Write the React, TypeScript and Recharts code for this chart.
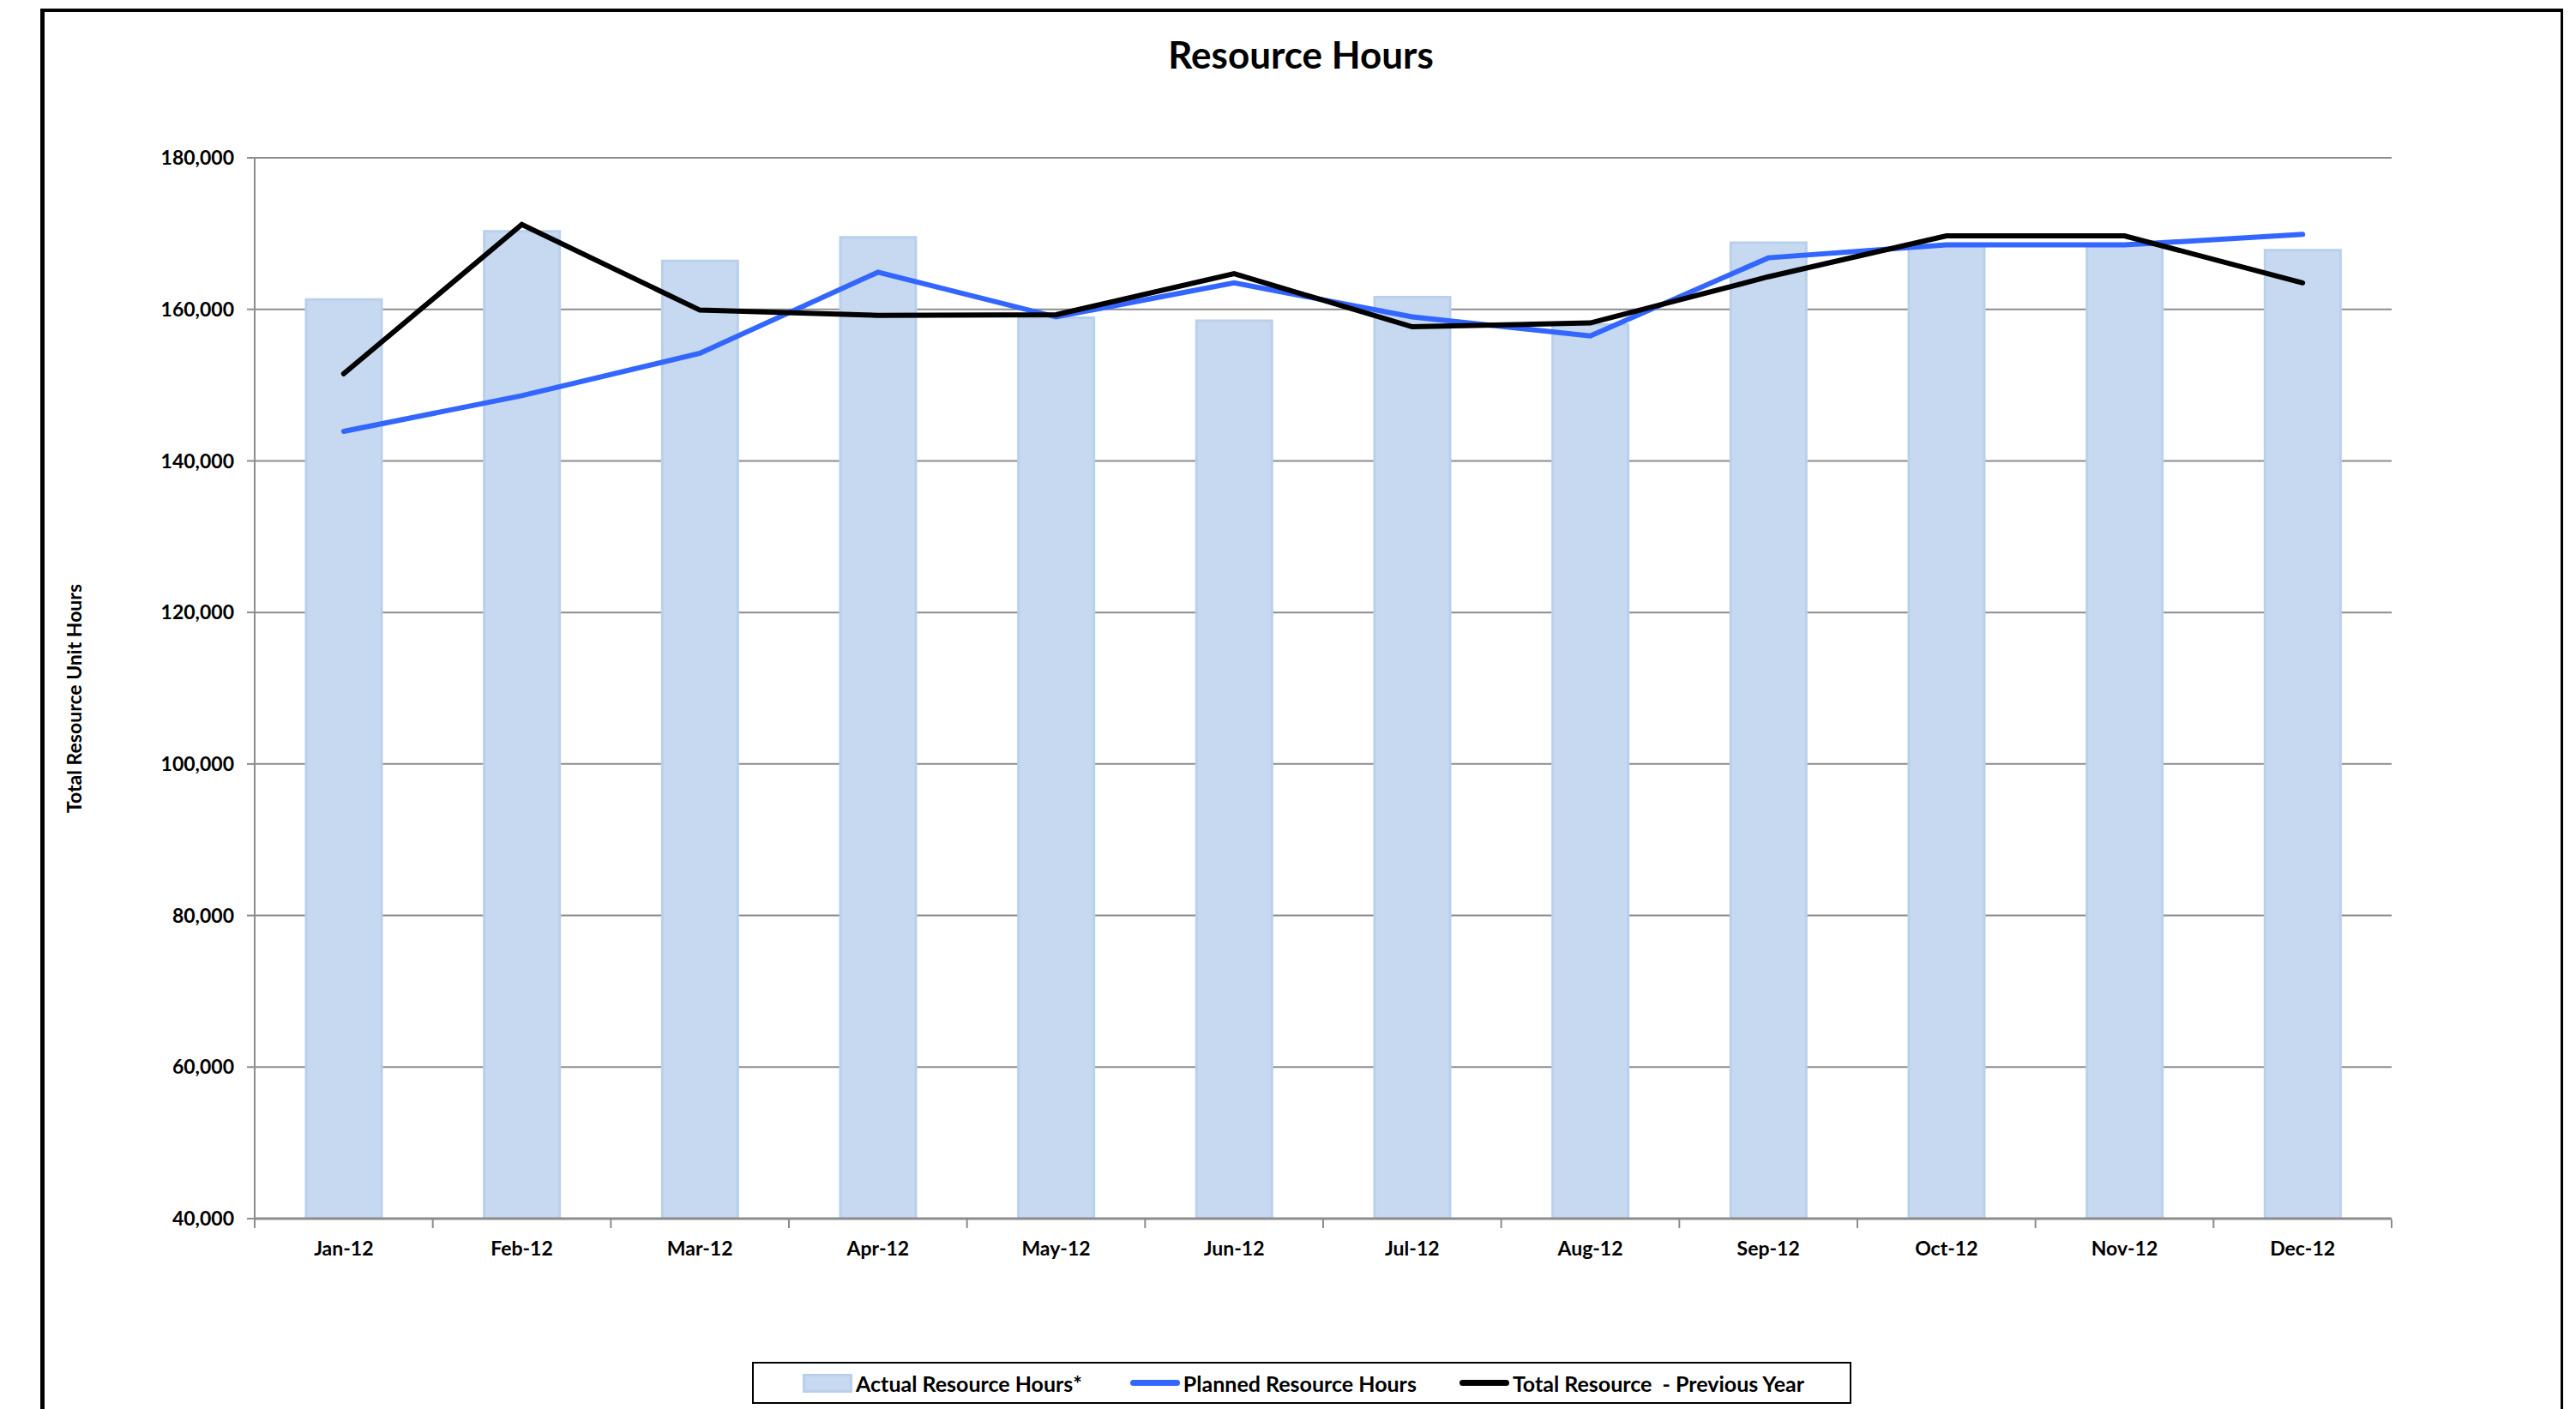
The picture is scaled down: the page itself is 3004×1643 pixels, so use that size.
import {
  ComposedChart,
  Bar,
  Line,
  XAxis,
  YAxis,
  CartesianGrid,
} from "recharts";

const months = [
  "Jan-12", "Feb-12", "Mar-12", "Apr-12", "May-12", "Jun-12",
  "Jul-12", "Aug-12", "Sep-12", "Oct-12", "Nov-12", "Dec-12",
];
const actualHours = [
  161300, 170300, 166400, 169500, 158900, 158500,
  161600, 158000, 168800, 168400, 168400, 167800,
];
const plannedHours = [
  143900, 148600, 154200, 164900, 159000, 163500,
  159000, 156500, 166800, 168500, 168500, 169900,
];
const previousYearHours = [
  151500, 171200, 159900, 159200, 159300, 164700,
  157700, 158200, 164300, 169700, 169700, 163500,
];
const yTicks = [40000, 60000, 80000, 100000, 120000, 140000, 160000, 180000];
const monthEdges = [0, 1, 2, 3, 4, 5, 6, 7, 8, 9, 10, 11, 12];
const seriesNames = [
  "Actual Resource Hours*",
  "Planned Resource Hours",
  "Total Resource  - Previous Year",
];

const FONT = "Lato, 'Open Sans', sans-serif";
const BAR_FILL = "#C6D9F1";
const BAR_EDGE = "#B9D0EC";
const PLANNED = "#3366FF";
const PREVIOUS = "#000000";
const GRID = "#8C8C8C";

// slot = middle of each month's band, used only by the tick-mark axis
const chartData = months.map((m, i) => ({
  month: m,
  slot: i + 0.5,
  actual: actualHours[i],
  planned: plannedHours[i],
  previous: previousYearHours[i],
}));

const fmt = (v: number) => new Intl.NumberFormat("en-US").format(v);

function AxisTitle({ viewBox }: { viewBox?: { x: number; y: number; width: number; height: number } }) {
  if (!viewBox) return null;
  const cx = viewBox.x + 12;
  const cy = viewBox.y + viewBox.height / 2 + 12;
  return (
    <text
      x={cx}
      y={cy}
      transform={`rotate(-90, ${cx}, ${cy})`}
      textAnchor="middle"
      dominantBaseline="central"
      fontFamily={FONT}
      fontWeight={700}
      fontSize={23}
      fill="#000"
    >
      Total Resource Unit Hours
    </text>
  );
}

function LegendBox() {
  const swatches = [
    <span style={{ display: "inline-block", width: 58, height: 22, background: BAR_FILL, border: `3px solid ${BAR_EDGE}`, boxSizing: "border-box" }} />,
    <span style={{ display: "inline-block", width: 58, height: 7, borderRadius: 4, background: PLANNED }} />,
    <span style={{ display: "inline-block", width: 58, height: 7, borderRadius: 4, background: PREVIOUS }} />,
  ];
  return (
    <div
      style={{
        position: "absolute",
        left: 877,
        top: 1588,
        width: 1282,
        height: 49,
        border: "2px solid #000",
        boxSizing: "border-box",
        background: "#fff",
        display: "flex",
        alignItems: "center",
        paddingLeft: 57,
        fontFamily: FONT,
        fontWeight: 700,
        fontSize: 25,
        color: "#000",
      }}
    >
      {seriesNames.map((name, i) => (
        <div key={name} style={{ display: "flex", alignItems: "center", marginRight: i === 0 ? 56 : 50 }}>
          {swatches[i]}
          <span style={{ marginLeft: 4, whiteSpace: "pre" }}>{name}</span>
        </div>
      ))}
    </div>
  );
}

export default function App() {
  return (
    <div style={{ position: "absolute", left: 0, top: 0, width: 3004, height: 1643, overflow: "hidden", background: "#fff" }}>
      <div
        style={{
          position: "absolute",
          left: 47,
          top: 10,
          width: 2942,
          height: 1700,
          borderTop: "4px solid #000",
          borderLeft: "5px solid #000",
          borderRight: "3px solid #000",
          boxSizing: "border-box",
        }}
      />
      <div
        style={{
          position: "absolute",
          left: 0,
          top: 39,
          width: 3034,
          textAlign: "center",
          fontFamily: FONT,
          fontWeight: 700,
          fontSize: 44,
          lineHeight: "48px",
          color: "#000",
        }}
      >
        Resource Hours
      </div>
      <div style={{ position: "absolute", left: 0, top: 0 }}>
        <ComposedChart
          width={3004}
          height={1643}
          data={chartData}
          margin={{ top: 184, right: 215, bottom: 220, left: 74 }}
        >
          <CartesianGrid horizontal vertical={false} stroke={GRID} strokeWidth={2} />
          <XAxis
            dataKey="month"
            height={1}
            axisLine={{ stroke: GRID, strokeWidth: 3 }}
            tickLine={false}
            tickSize={10}
            tickMargin={17}
            interval={0}
            tick={{ fontFamily: FONT, fontWeight: 700, fontSize: 23, fill: "#000" }}
          />
          <XAxis
            xAxisId="edges"
            dataKey="slot"
            type="number"
            domain={[0, 12]}
            ticks={monthEdges}
            interval={0}
            allowDataOverflow
            height={1}
            axisLine={false}
            tickFormatter={() => ""}
            tick={{ fontSize: 1 }}
            tickLine={{ stroke: GRID, strokeWidth: 2 }}
            tickSize={10}
          />
          <YAxis
            domain={[40000, 180000]}
            ticks={yTicks}
            allowDataOverflow
            width={223}
            tickFormatter={fmt}
            axisLine={{ stroke: GRID, strokeWidth: 2 }}
            tickLine={{ stroke: GRID, strokeWidth: 2 }}
            tickSize={9}
            tickMargin={15}
            tick={{ fontFamily: FONT, fontWeight: 700, fontSize: 23, fill: "#000" }}
            label={<AxisTitle />}
          />
          <Bar
            dataKey="actual"
            name={seriesNames[0]}
            barSize={88}
            fill={BAR_FILL}
            stroke={BAR_EDGE}
            strokeWidth={3}
            isAnimationActive={false}
          />
          <Line
            type="linear"
            dataKey="planned"
            name={seriesNames[1]}
            stroke={PLANNED}
            strokeWidth={6}
            strokeLinecap="round"
            dot={false}
            activeDot={false}
            isAnimationActive={false}
          />
          <Line
            type="linear"
            dataKey="previous"
            name={seriesNames[2]}
            stroke={PREVIOUS}
            strokeWidth={6}
            strokeLinecap="round"
            dot={false}
            activeDot={false}
            isAnimationActive={false}
          />
        </ComposedChart>
      </div>
      <LegendBox />
    </div>
  );
}
